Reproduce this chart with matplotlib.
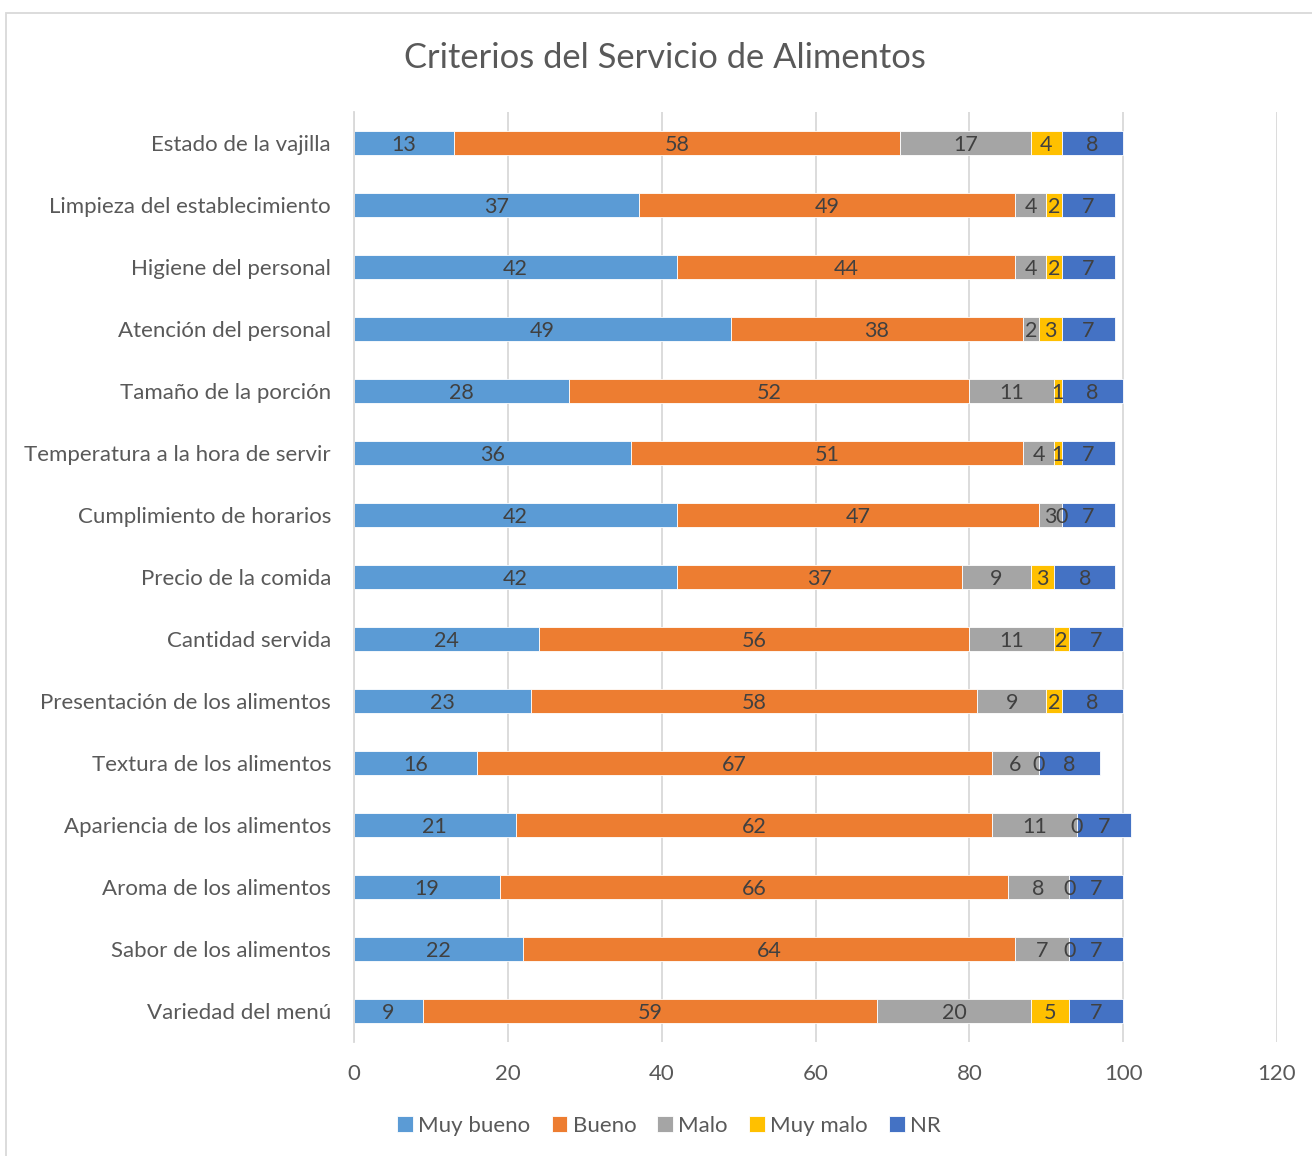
import matplotlib
matplotlib.use("Agg")
import matplotlib.pyplot as plt
from matplotlib.patches import Rectangle
import numpy as np

plt.rcParams['font.family'] = ['Lato', 'DejaVu Sans']

categories = [
    "Estado de la vajilla",
    "Limpieza del establecimiento",
    "Higiene del personal",
    "Atención del personal",
    "Tamaño de la porción",
    "Temperatura a la hora de servir",
    "Cumplimiento de horarios",
    "Precio de la comida",
    "Cantidad servida",
    "Presentación de los alimentos",
    "Textura de los alimentos",
    "Apariencia de los alimentos",
    "Aroma de los alimentos",
    "Sabor de los alimentos",
    "Variedad del menú",
]

muy_bueno = [13, 37, 42, 49, 28, 36, 42, 42, 24, 23, 16, 21, 19, 22, 9]
bueno     = [58, 49, 44, 38, 52, 51, 47, 37, 56, 58, 67, 62, 66, 64, 59]
malo      = [17, 4, 4, 2, 11, 4, 3, 9, 11, 9, 6, 11, 8, 7, 20]
muy_malo  = [4, 2, 2, 3, 1, 1, 0, 3, 2, 2, 0, 0, 0, 0, 5]
nr        = [8, 7, 7, 7, 8, 7, 7, 8, 7, 8, 8, 7, 7, 7, 7]

series_names = ["Muy bueno", "Bueno", "Malo", "Muy malo", "NR"]
series_values = [muy_bueno, bueno, malo, muy_malo, nr]
colors = ["#5B9BD5", "#ED7D31", "#A5A5A5", "#FFC000", "#4472C4"]

title = "Criterios del Servicio de Alimentos"
xticks = [0, 20, 40, 60, 80, 100, 120]

W, H = 1312, 1156
fig = plt.figure(figsize=(W / 100, H / 100), dpi=100)
fig.patch.set_facecolor("white")

# outer chart frame
fig.patches.append(Rectangle((6 / W, -0.05), 1.2, 1 - 13 / H + 0.05,
                             transform=fig.transFigure, fill=False,
                             edgecolor="#D9D9D9", linewidth=1.3, zorder=0))

ax = fig.add_axes([354 / W, 1 - 1042 / H, (1277 - 354) / W, (1042 - 112) / H])

y = np.arange(len(categories))
left = np.zeros(len(categories))
for name, vals, col in zip(series_names, series_values, colors):
    vals = np.array(vals, dtype=float)
    ax.barh(y, vals, left=left, height=0.4, color=col, label=name,
            edgecolor="white", linewidth=0.6, zorder=3)
    # value labels centred in each segment
    for yi, (l, v) in enumerate(zip(left, vals)):
        ax.text(l + v / 2, yi, f"{int(v)}", ha="center", va="center_baseline",
                fontsize=15.5, color="#404040", zorder=4)
    left += vals

ax.set_ylim(len(categories) - 0.5, -0.5)
ax.set_xlim(0, 120)
ax.set_xticks(xticks)
ax.set_yticks(y)
ax.set_yticklabels(categories)
ax.tick_params(axis="both", length=0, colors="#595959", labelsize=16)
ax.tick_params(axis="y", pad=16.5)
ax.tick_params(axis="x", pad=16)
ax.grid(axis="x", color="#D9D9D9", linewidth=1.3, zorder=0)
for s in ["top", "right", "bottom"]:
    ax.spines[s].set_visible(False)
ax.spines["left"].set_color("#D9D9D9")
ax.spines["left"].set_linewidth(1.3)
ax.spines["left"].set_zorder(5)

fig.text(665 / W, 1 - 58 / H, title, ha="center", va="center",
         fontsize=24.8, color="#595959")

handles, labels = ax.get_legend_handles_labels()
fig.legend(handles, labels, loc="center", bbox_to_anchor=(669 / W, 1 - 1126 / H),
           ncol=5, frameon=False, fontsize=16, labelcolor="#595959",
           handlelength=0.7, handleheight=0.7, handletextpad=0.25,
           columnspacing=0.95)

fig.savefig("out.png", dpi=100)
